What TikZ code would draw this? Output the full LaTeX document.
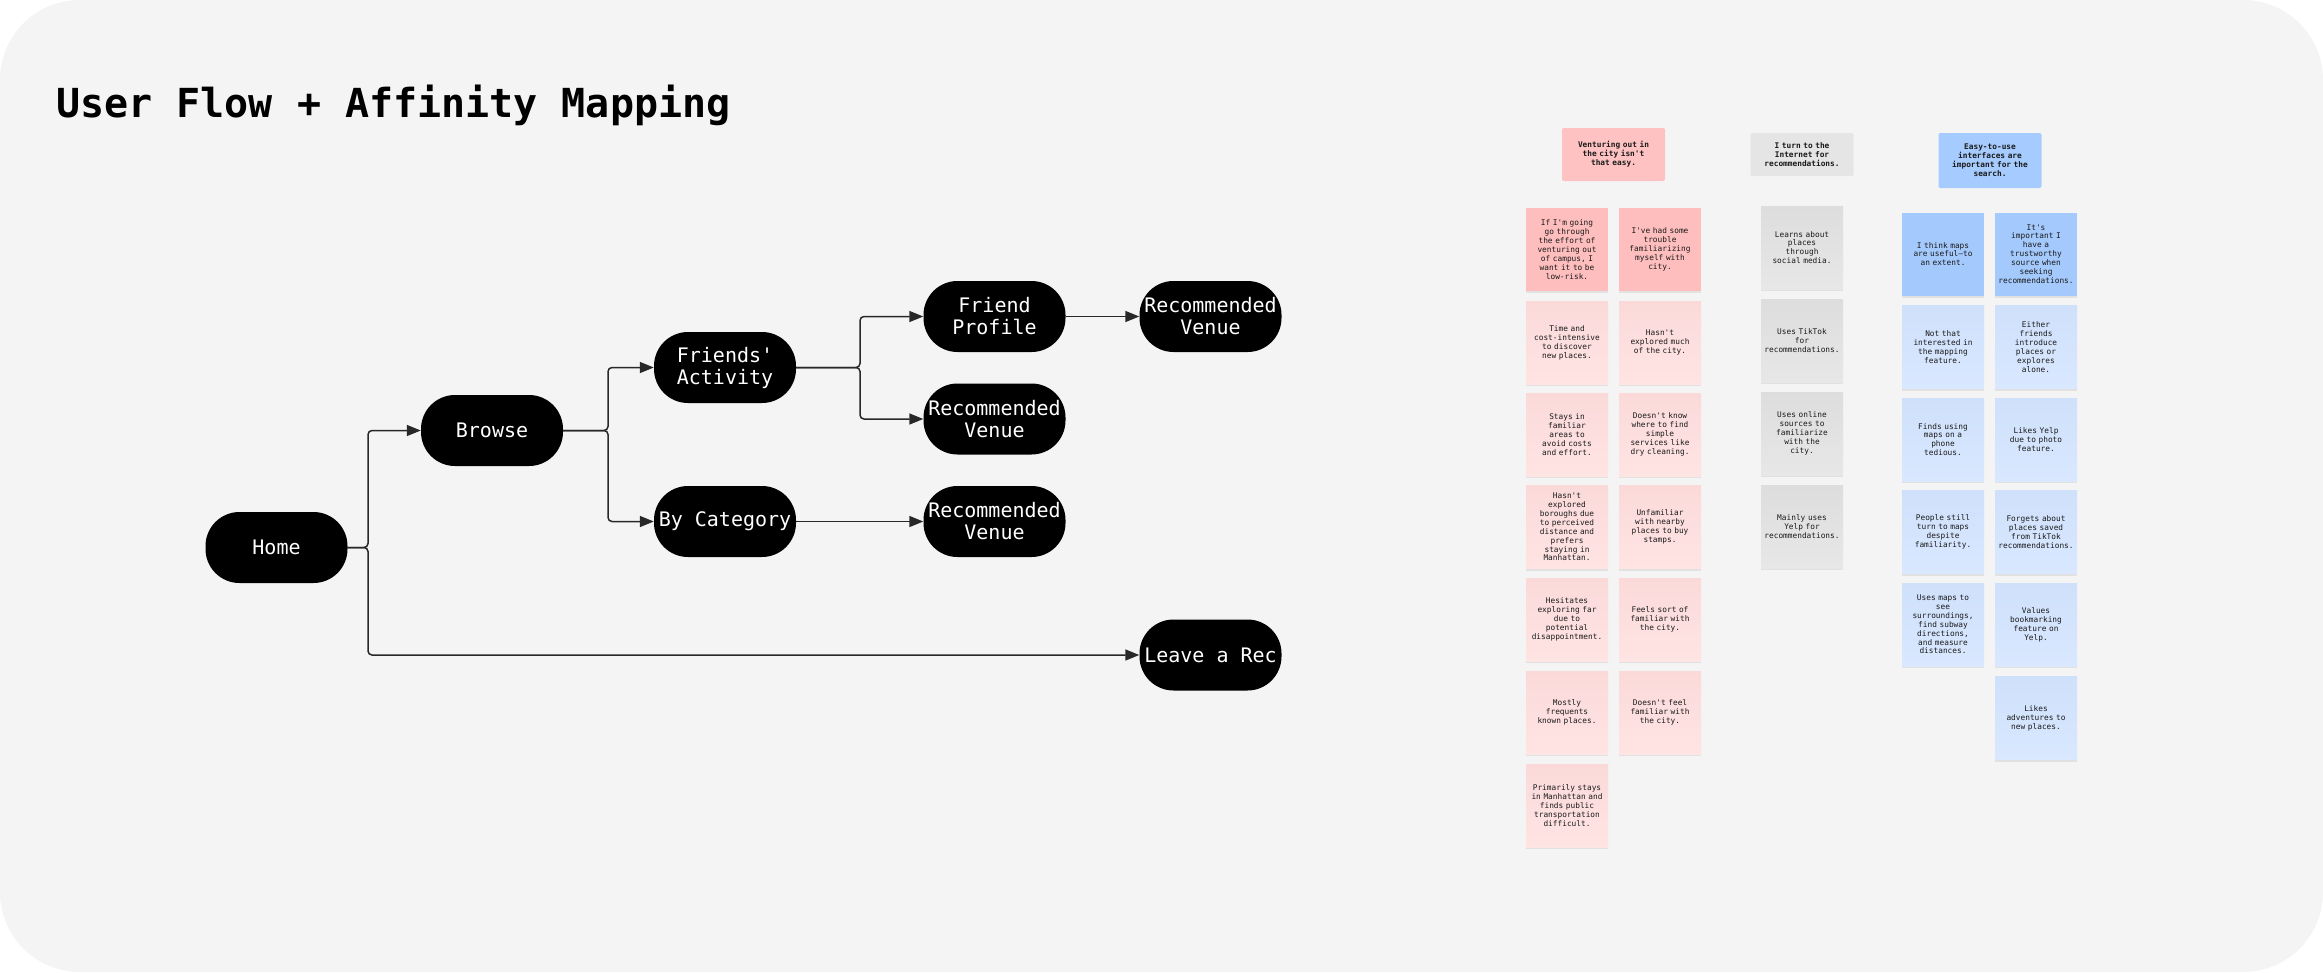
\documentclass[tikz,border=0pt]{standalone}
\usepackage{fontspec}
\setmonofont{DejaVu Sans Mono}
\usetikzlibrary{positioning}
\usetikzlibrary{arrows.meta}
\usetikzlibrary{shadows}

\definecolor{canvas}{RGB}{244,244,244}
\definecolor{flowline}{RGB}{40,40,40}
\definecolor{notetext}{RGB}{26,26,26}
\definecolor{pinkhead}{RGB}{255,194,194}
\definecolor{pinkdeep}{RGB}{255,190,190}
\definecolor{pinktop}{RGB}{251,217,217}
\definecolor{pinknote}{RGB}{255,228,228}
\definecolor{greyhead}{RGB}{229,229,229}
\definecolor{greytop}{RGB}{221,221,221}
\definecolor{greynote}{RGB}{231,231,231}
\definecolor{bluehead}{RGB}{166,204,255}
\definecolor{bluedeep}{RGB}{164,201,252}
\definecolor{bluetop}{RGB}{207,224,251}
\definecolor{bluenote}{RGB}{217,232,255}

\begin{document}
\begin{tikzpicture}[
    x=1pt, y=-1pt,
    screen/.style={fill=black, rounded corners=34pt, minimum width=142pt, minimum height=71pt,
        inner sep=0pt, align=center, text=white, font=\ttfamily\fontsize{20}{22}\selectfont},
    flow/.style={draw=flowline, line width=1.5pt, rounded corners=4pt, -{Triangle[length=14pt,width=11pt]}},
    notebase/.style={inner sep=0pt, align=center, text=notetext},
    sticky/.style={notebase, minimum width=82pt, minimum height=83pt, text width=82pt,
        font=\ttfamily\fontsize{7.8}{8.9}\selectfont,
        drop shadow={shadow xshift=0pt, shadow yshift=-2pt, opacity=0.16}},
    header/.style={notebase, minimum width=103pt, text width=100pt, rounded corners=2pt,
        font=\ttfamily\bfseries\fontsize{7.8}{8.9}\selectfont},
    pinkfirst/.style={sticky, fill=pinkdeep},
    pinkrest/.style={sticky, top color=pinktop, bottom color=pinknote},
    greyrest/.style={sticky, top color=greytop, bottom color=greynote},
    bluefirst/.style={sticky, fill=bluedeep},
    bluerest/.style={sticky, top color=bluetop, bottom color=bluenote}
]
    % canvas
    \useasboundingbox (0,0) rectangle (2323,972);
    \fill[white] (0,0) rectangle (2323,972);
    \fill[canvas, rounded corners=80pt] (0,0) rectangle (2323,972);

    \node[anchor=base west, inner sep=0pt, font=\ttfamily\bfseries\fontsize{40}{48}\selectfont] (title) at (56,117) {User Flow + Affinity Mapping};

    % user flow
    \node[screen] (home) at (276.5,547.5) {Home};
    \node[screen] (browse) at (492,430.5) {Browse};
    \node[screen] (friends) at (725,367.5) {Friends'\\Activity};
    \node[screen] (bycat) at (725,521.5) {By Category};
    \node[screen] (profile) at (994.5,316.5) {Friend\\Profile};
    \node[screen] (venueB) at (994.5,419) {Recommended\\Venue};
    \node[screen] (venueC) at (994.5,521.5) {Recommended\\Venue};
    \node[screen] (venueA) at (1210.5,316.5) {Recommended\\Venue};
    \node[screen] (leave) at (1210.5,655) {Leave a Rec};

    \coordinate (homesplit) at (368,547.5);
    \coordinate (browsesplit) at (608,430.5);
    \coordinate (friendsplit) at (860,367.5);

    \draw[flow] (home.east) -- (homesplit) |- (browse.west);
    \draw[flow] (home.east) -- (homesplit) |- (leave.west);
    \draw[flow] (browse.east) -- (browsesplit) |- (friends.west);
    \draw[flow] (browse.east) -- (browsesplit) |- (bycat.west);
    \draw[flow] (friends.east) -- (friendsplit) |- (profile.west);
    \draw[flow] (friends.east) -- (friendsplit) |- (venueB.west);
    \draw[flow] (bycat) -- (venueC);
    \draw[flow] (profile) -- (venueA);

    % affinity map headers
    \node[header, fill=pinkhead, minimum height=53pt] (pinkhd) at (1613.5,154.5) {Venturing out in\\the city isn't\\that easy.};
    \node[header, fill=greyhead, minimum height=43pt] (greyhd) at (1802,154.5) {I turn to the\\Internet for\\recommendations.};
    \node[header, fill=bluehead, minimum height=55pt] (bluehd) at (1990,160.5) {Easy-to-use\\interfaces are\\important for the\\search.};

    % pink notes
    \foreach \name/\px/\py/\sty/\txt in {
        p1/1567/249.5/pinkfirst/{If I'm going\\go through\\the effort of\\venturing out\\of campus, I\\want it to be\\low-risk.},
        p2/1660/249.5/pinkfirst/{I've had some\\trouble\\familiarizing\\myself with\\city.},
        p3/1567/342.5/pinkrest/{Time and\\cost-intensive\\to discover\\new places.},
        p4/1660/342.5/pinkrest/{Hasn't\\explored much\\of the city.},
        p5/1567/434.5/pinkrest/{Stays in\\familiar\\areas to\\avoid costs\\and effort.},
        p6/1660/434.5/pinkrest/{Doesn't know\\where to find\\simple\\services like\\dry cleaning.},
        p7/1567/527/pinkrest/{Hasn't\\explored\\boroughs due\\to perceived\\distance and\\prefers\\staying in\\Manhattan.},
        p8/1660/527/pinkrest/{Unfamiliar\\with nearby\\places to buy\\stamps.},
        p9/1567/619.5/pinkrest/{Hesitates\\exploring far\\due to\\potential\\disappointment.},
        p10/1660/619.5/pinkrest/{Feels sort of\\familiar with\\the city.},
        p11/1567/712.5/pinkrest/{Mostly\\frequents\\known places.},
        p12/1660/712.5/pinkrest/{Doesn't feel\\familiar with\\the city.},
        p13/1567/805.5/pinkrest/{Primarily stays\\in Manhattan and\\finds public\\transportation\\difficult.}}
        \node[\sty] (\name) at (\px,\py) {\txt};

    % grey notes
    \foreach \name/\py/\txt in {
        g1/247.5/{Learns about\\places\\through\\social media.},
        g2/340.5/{Uses TikTok\\for\\recommendations.},
        g3/433.5/{Uses online\\sources to\\familiarize\\with the\\city.},
        g4/526.5/{Mainly uses\\Yelp for\\recommendations.}}
        \node[greyrest] (\name) at (1802,\py) {\txt};

    % blue notes
    \foreach \name/\px/\py/\sty/\txt in {
        b1/1943/254/bluefirst/{I think maps\\are useful—to\\an extent.},
        b2/2036/254/bluefirst/{It's\\important I\\have a\\trustworthy\\source when\\seeking\\recommendations.},
        b3/1943/347/bluerest/{Not that\\interested in\\the mapping\\feature.},
        b4/2036/347/bluerest/{Either\\friends\\introduce\\places or\\explores\\alone.},
        b5/1943/439.5/bluerest/{Finds using\\maps on a\\phone\\tedious.},
        b6/2036/439.5/bluerest/{Likes Yelp\\due to photo\\feature.},
        b7/1943/532/bluerest/{People still\\turn to maps\\despite\\familiarity.},
        b8/2036/532/bluerest/{Forgets about\\places saved\\from TikTok\\recommendations.},
        b9/1943/624.5/bluerest/{Uses maps to\\see\\surroundings,\\find subway\\directions,\\and measure\\distances.},
        b10/2036/624.5/bluerest/{Values\\bookmarking\\feature on\\Yelp.},
        b11/2036/718/bluerest/{Likes\\adventures to\\new places.}}
        \node[\sty] (\name) at (\px,\py) {\txt};
\end{tikzpicture}
\end{document}
